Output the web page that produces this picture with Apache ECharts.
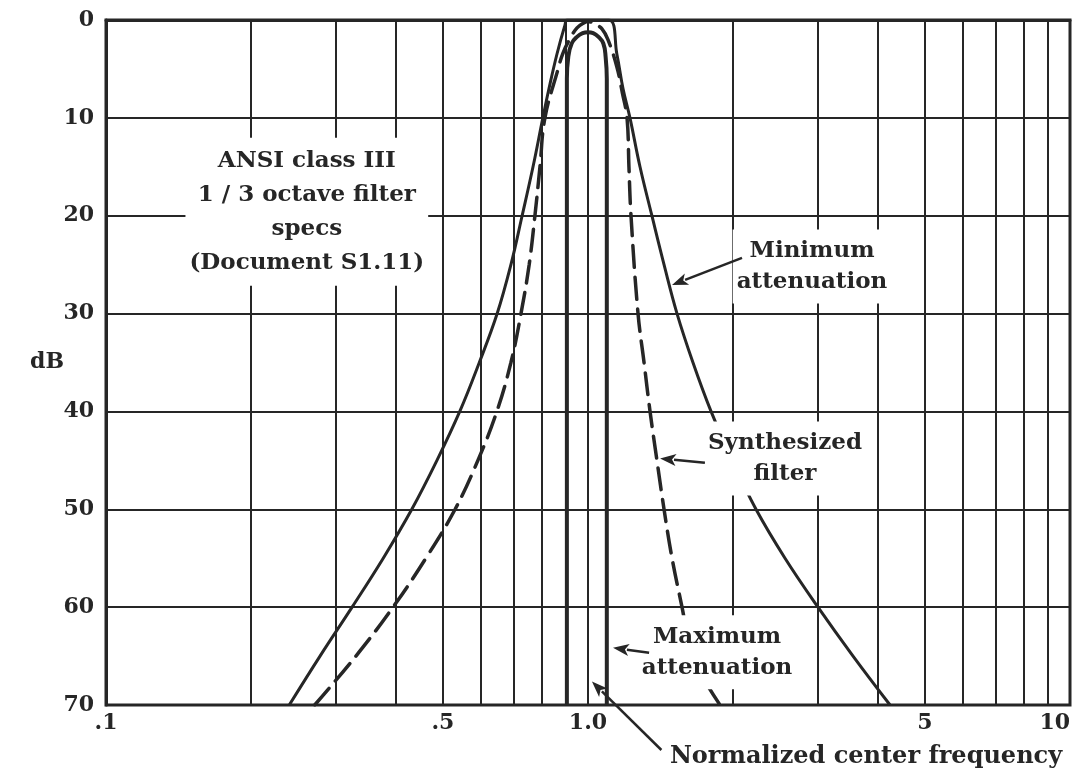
<!DOCTYPE html>
<html>
<head>
<meta charset="utf-8">
<script src="https://cdn.jsdelivr.net/npm/echarts@6/dist/echarts.min.js"></script>
<style>
html,body{margin:0;padding:0;background:#fff;}
#c{width:1088px;height:773px;}
</style>
</head>
<body>
<div id="c"></div>
<script>
// ---- data (normalized frequency, attenuation in dB) ----
var minAttFreq = [0.240,0.278,0.324,0.376,0.431,0.486,0.542,0.595,0.648,0.692,0.730,0.769,0.806,0.830,0.862,0.896,0.905,1.105,1.148,1.182,1.222,1.282,1.357,1.438,1.530,1.651,1.800,1.990,2.231,2.563,3.000,3.547,4.233];
var minAttDb   = [70,65,60,55,50,45,40,35,30,25,20,15,10,7,3.5,0.5,0,0,3.5,7,10,15,20,25,30,35,40,45,50,55,60,65,70];

var synFreq = [0.271,0.330,0.394,0.461,0.530,0.591,0.647,0.692,0.726,0.755,0.776,0.795,0.814,0.867,0.887,0.920,0.949,0.980,1.000,1.035,1.069,1.100,1.148,1.179,1.205,1.216,1.228,1.270,1.307,1.345,1.390,1.438,1.494,1.567,1.628,1.724,1.879];
var synDb   = [70,65,60,55,50,45,40,35,30,25,20,15,10,5,3.4,1.8,0.8,0.3,0.15,0.45,0.9,2.0,4.8,7.5,10,15,20,30,35,40,45,50,55,60,64,67,70];

var maxAttFreq = [0.904,0.904,0.910,0.925,0.950,0.975,1.000,1.025,1.050,1.076,1.088,1.094,1.094];
var maxAttDb   = [70,6,3.8,2.4,1.7,1.35,1.26,1.35,1.7,2.4,3.8,6,70];

// ---- axes ----
var xGridValues = [0.1,0.2,0.3,0.4,0.5,0.6,0.7,0.8,0.9,1,2,3,4,5,6,7,8,9,10];
var xTickValues = [0.1,0.5,1,5,10];
var xTickLabels = ['.1','.5','1.0','5','10'];
var yMin = 0, yMax = 70, yInterval = 10;

// ---- annotations: [text, freq, dB, fontSize] ----
var notes = [
  ['ANSI class III\n1 / 3 octave filter\nspecs\n(Document S1.11)', 0.261, 19.6, 23],
  ['Minimum\nattenuation', 2.915, 25.2, 23],
  ['Synthesized\nfilter', 2.563, 44.8, 23],
  ['Maximum\nattenuation', 1.852, 64.6, 23],
  ['Normalized center frequency', 3.774, 75.3, 24]
];
// arrows: [fromFreq, fromDb, toFreq, toDb]
var arrows = [
  [2.087, 24.3, 1.494, 27.07],
  [1.748, 45.25, 1.411, 44.8],
  [1.339, 64.66, 1.127, 64.15],
  [1.42, 74.6, 1.019, 67.6]
];

function zip(a, b){ var r=[]; for (var i=0;i<a.length;i++) r.push([a[i], b[i]]); return r; }

var FONT = '"DejaVu Serif", serif';
var INK = '#262626';

var chart = echarts.init(document.getElementById('c'), null, {renderer:'canvas'});
var option = {
  backgroundColor: '#fff',
  animation: false,
  grid: {left:106, right:18, top:20, bottom:68, show:true, borderColor:INK, borderWidth:3, backgroundColor:'transparent'},
  xAxis: {
    type:'log', logBase:10, min:0.1, max:10,
    axisLine:{show:true, lineStyle:{color:INK, width:3}},
    axisTick:{show:false, customValues: xGridValues},
    splitLine:{show:true, lineStyle:{color:INK, width:2}},
    axisLabel:{
      customValues: xTickValues,
      margin: 7,
      fontFamily: FONT, fontWeight:'bold', fontSize:22, color:INK,
      alignMaxLabel:'right',
      formatter: function(v){
        for (var i=0;i<xTickValues.length;i++){ if (Math.abs(v-xTickValues[i]) < 1e-6*Math.max(1,v)) return xTickLabels[i]; }
        return '';
      }
    }
  },
  yAxis: {
    type:'value', inverse:true, min:yMin, max:yMax, interval:yInterval,
    axisLine:{show:true, lineStyle:{color:INK, width:3}},
    axisTick:{show:false},
    splitLine:{show:true, lineStyle:{color:INK, width:2}},
    axisLabel:{margin:12, fontFamily:FONT, fontWeight:'bold', fontSize:22, color:INK},
    name:'dB', nameLocation:'middle', nameRotate:0, nameGap:42, nameMoveOverlap:false,
    nameTextStyle:{fontFamily:FONT, fontWeight:'bold', fontSize:22, color:INK}
  },
  series: [
    {name:'Minimum attenuation', type:'line', data: zip(minAttFreq, minAttDb), showSymbol:false, symbol:'none',
     smooth:0.4, lineStyle:{color:INK, width:3}},
    {name:'Synthesized filter', type:'line', data: zip(synFreq, synDb), showSymbol:false, symbol:'none',
     smooth:0.4, lineStyle:{color:INK, width:3.5, type:[22,10], cap:'round'}},
    {name:'Maximum attenuation', type:'line', data: zip(maxAttFreq, maxAttDb), showSymbol:false, symbol:'none',
     smooth:0.45, lineStyle:{color:INK, width:4}}
  ]
};
chart.setOption(option);

function px(f, db){ return chart.convertToPixel({gridIndex:0}, [f, db]); }
var g = [];
arrows.forEach(function(a){
  var p1 = px(a[0], a[1]), p2 = px(a[2], a[3]);
  var dx = p2[0]-p1[0], dy = p2[1]-p1[1], L = Math.sqrt(dx*dx+dy*dy);
  var ux = dx/L, uy = dy/L, hl = 16, hw = 6;
  var bx = p2[0]-ux*hl, by = p2[1]-uy*hl;
  g.push({type:'line', z:100, shape:{x1:p1[0], y1:p1[1], x2:bx+ux*2, y2:by+uy*2}, style:{stroke:INK, lineWidth:2.5}});
  g.push({type:'polygon', z:100, shape:{points:[[p2[0],p2[1]],[bx-uy*hw, by+ux*hw],[bx+ux*4, by+uy*4],[bx+uy*hw, by-ux*hw]]}, style:{fill:INK}});
});
notes.forEach(function(n, i){
  var p = px(n[1], n[2]);
  g.push({type:'text', z:90, x:p[0], y:p[1], style:{
    text:n[0], font:'bold ' + n[3] + 'px ' + FONT, fill:INK, align:'center', verticalAlign:'middle',
    lineHeight: i===0 ? 34 : 31, backgroundColor:'#fff', padding: i===4 ? [2,4] : [6,4]
  }});
});
chart.setOption({graphic: g});
</script>
</body>
</html>
